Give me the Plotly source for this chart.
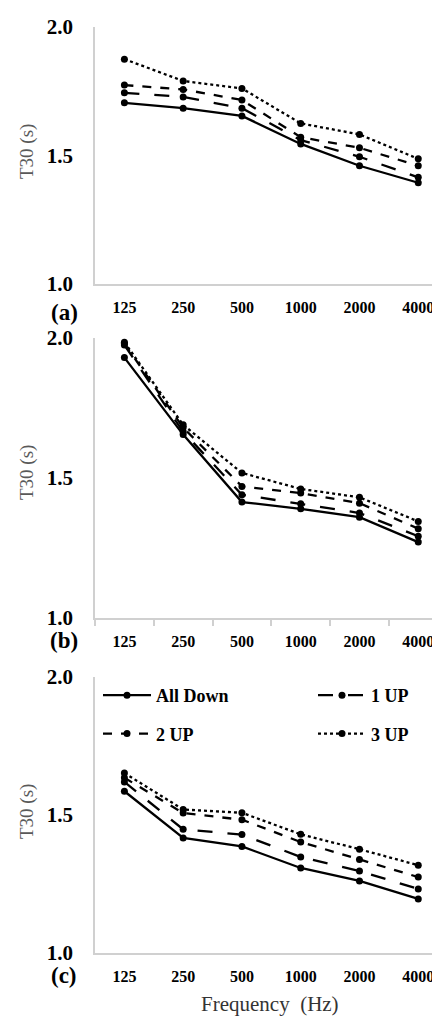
import plotly.graph_objects as go

freqs = ["125", "250", "500", "1000", "2000", "4000"]
series_names = ["All Down", "1 UP", "2 UP", "3 UP"]

a_all_down = [1.705, 1.684, 1.654, 1.545, 1.460, 1.394]
a_1up = [1.744, 1.728, 1.684, 1.560, 1.495, 1.415]
a_2up = [1.774, 1.757, 1.716, 1.571, 1.530, 1.460]
a_3up = [1.875, 1.790, 1.761, 1.625, 1.582, 1.487]

b_all_down = [1.930, 1.655, 1.414, 1.390, 1.360, 1.271]
b_1up = [1.975, 1.665, 1.440, 1.408, 1.375, 1.292]
b_2up = [1.980, 1.680, 1.470, 1.446, 1.410, 1.319]
b_3up = [1.985, 1.690, 1.518, 1.461, 1.431, 1.345]

c_all_down = [1.586, 1.417, 1.386, 1.308, 1.261, 1.196]
c_1up = [1.620, 1.448, 1.429, 1.348, 1.297, 1.232]
c_2up = [1.635, 1.507, 1.483, 1.402, 1.339, 1.275]
c_3up = [1.652, 1.520, 1.508, 1.430, 1.376, 1.318]

panels = [
    ("(a)", [a_all_down, a_1up, a_2up, a_3up]),
    ("(b)", [b_all_down, b_1up, b_2up, b_3up]),
    ("(c)", [c_all_down, c_1up, c_2up, c_3up]),
]

dashes = ["solid", "longdash", "dash", "dot"]
legend_ids = ["legend", "legend2", "legend", "legend2"]

# the page body has an 8px margin; size the figure so it fills the window
OFF = 8
W, H = 440 - OFF, 1016 - OFF
FONT = "Times New Roman, Liberation Serif, DejaVu Serif, serif"
AXC = "#d0d0d0"


def fx(sx):
    return (sx - OFF) / W


def fy(sy):
    return 1 - (sy - OFF) / H


# window-pixel positions of plot areas (top, bottom)
ydom_px = [(27, 284), (338, 618), (677, 953)]
x_left_px = 95

fig = go.Figure()
for p, (label, data) in enumerate(panels):
    xa = "x" if p == 0 else f"x{p+1}"
    ya = "y" if p == 0 else f"y{p+1}"
    for s, vals in enumerate(data):
        fig.add_trace(go.Scatter(
            x=freqs, y=vals, mode="lines+markers", name=series_names[s],
            xaxis=xa, yaxis=ya,
            line=dict(color="black", width=2.3, dash=dashes[s]),
            marker=dict(color="black", size=7, symbol="circle"),
            showlegend=(p == 2), legend=legend_ids[s], legendgroup=series_names[s],
        ))

layout = dict(
    width=W, height=H, margin=dict(l=0, r=0, t=0, b=0, autoexpand=False),
    paper_bgcolor="white", plot_bgcolor="white",
    font=dict(family=FONT, color="black"),
    showlegend=True,
)
for p in range(3):
    top, bot = ydom_px[p]
    sfx = "" if p == 0 else str(p + 1)
    layout["xaxis" + sfx] = dict(
        domain=[fx(x_left_px), 1.0], anchor="y" + sfx, automargin=False,
        type="category", range=[-0.5, 5.37],
        showline=True, linecolor=AXC, linewidth=1.5,
        showgrid=False, zeroline=False,
        ticks="outside" if p == 1 else "", tickson="boundaries",
        ticklen=6, tickcolor=AXC, tickwidth=1.5,
        tickfont=dict(family=FONT, size=16, color="black", weight="bold"),
        ticklabelstandoff=8,
    )
    layout["yaxis" + sfx] = dict(
        domain=[fy(bot), fy(top)], anchor="x" + sfx, automargin=False,
        range=[1.0, 2.0], tickvals=[1.0, 1.5, 2.0], ticktext=["1.0", "1.5", "2.0"],
        showline=True, linecolor=AXC, linewidth=1.5,
        showgrid=False, zeroline=False, ticks="",
        tickfont=dict(family=FONT, size=21, color="black", weight="bold"),
        ticklabelstandoff=16,
    )

legend_common = dict(
    orientation="v", bgcolor="rgba(0,0,0,0)", tracegroupgap=12,
    font=dict(family=FONT, size=18, color="black", weight="bold"),
    xanchor="left", yanchor="top", itemwidth=48,
)
layout["legend"] = dict(legend_common, x=fx(98), y=fy(677))
layout["legend2"] = dict(legend_common, x=fx(313), y=fy(677))

annotations = []
label_y = [312, 640, 975]
title_y = [152, 473, 812]
for p, (label, _) in enumerate(panels):
    annotations.append(dict(
        text=label, x=fx(64), y=fy(label_y[p]), xref="paper", yref="paper",
        showarrow=False, xanchor="center", yanchor="middle",
        font=dict(family=FONT, size=23, color="black", weight="bold"),
    ))
    annotations.append(dict(
        text="T30 (s)", x=fx(27), y=fy(title_y[p]), xref="paper", yref="paper",
        showarrow=False, xanchor="center", yanchor="middle", textangle=-90,
        font=dict(family=FONT, size=19, color="#595959"),
    ))
annotations.append(dict(
    text="Frequency  (Hz)", x=fx(270), y=fy(1004), xref="paper", yref="paper",
    showarrow=False, xanchor="center", yanchor="middle",
    font=dict(family=FONT, size=21, color="#333333"),
))
layout["annotations"] = annotations

fig.update_layout(**layout)
fig.write_html("out.html")
